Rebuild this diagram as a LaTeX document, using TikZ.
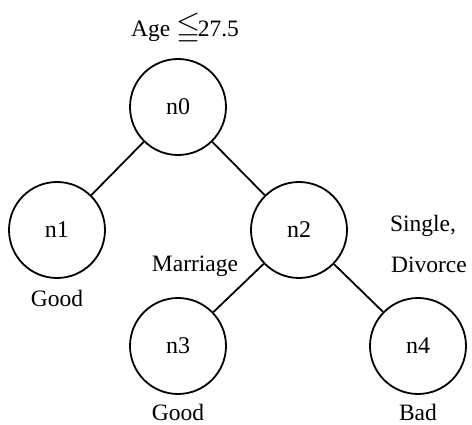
\documentclass[tikz,border=0pt]{standalone}
\usepackage{amssymb}
\usepackage{fontspec}
\setmainfont{Liberation Serif}
\begin{document}
\begin{tikzpicture}[x=1pt,y=-1pt,
  treenode/.style={draw,circle,line width=1.8pt,minimum size=96pt,inner sep=0pt,font=\fontsize{24}{27}\selectfont},
  lbl/.style={font=\fontsize{23.5}{26}\selectfont,inner sep=0pt},
  edge/.style={line width=1.8pt}]
  \useasboundingbox (0,0) rectangle (472,425);
  % tree nodes
  \node[treenode] (n0) at (178,107) {n0};
  \node[treenode] (n1) at (57,230) {n1};
  \node[treenode] (n2) at (299,230) {n2};
  \node[treenode] (n3) at (178,346) {n3};
  \node[treenode] (n4) at (418,346) {n4};
  % branches
  \draw[edge] (n0) -- (n1);
  \draw[edge] (n0) -- (n2);
  \draw[edge] (n2) -- (n3);
  \draw[edge] (n2) -- (n4);
  % split condition and branch labels
  \node[lbl,anchor=base] (cond) at (185,37) {Age {\fontsize{31}{31}\selectfont$\leqq$}\kern-0.1em27.5};
  \node[lbl,anchor=base] (m) at (195,272) {Marriage};
  \node[lbl,anchor=base] (s) at (423,232) {Single,};
  \node[lbl,anchor=base] (d) at (429,273) {Divorce};
  % leaf classes
  \node[lbl,anchor=base] (g1) at (57,306) {Good};
  \node[lbl,anchor=base] (g3) at (178,420) {Good};
  \node[lbl,anchor=base] (b4) at (418,420) {Bad};
\end{tikzpicture}
\end{document}
